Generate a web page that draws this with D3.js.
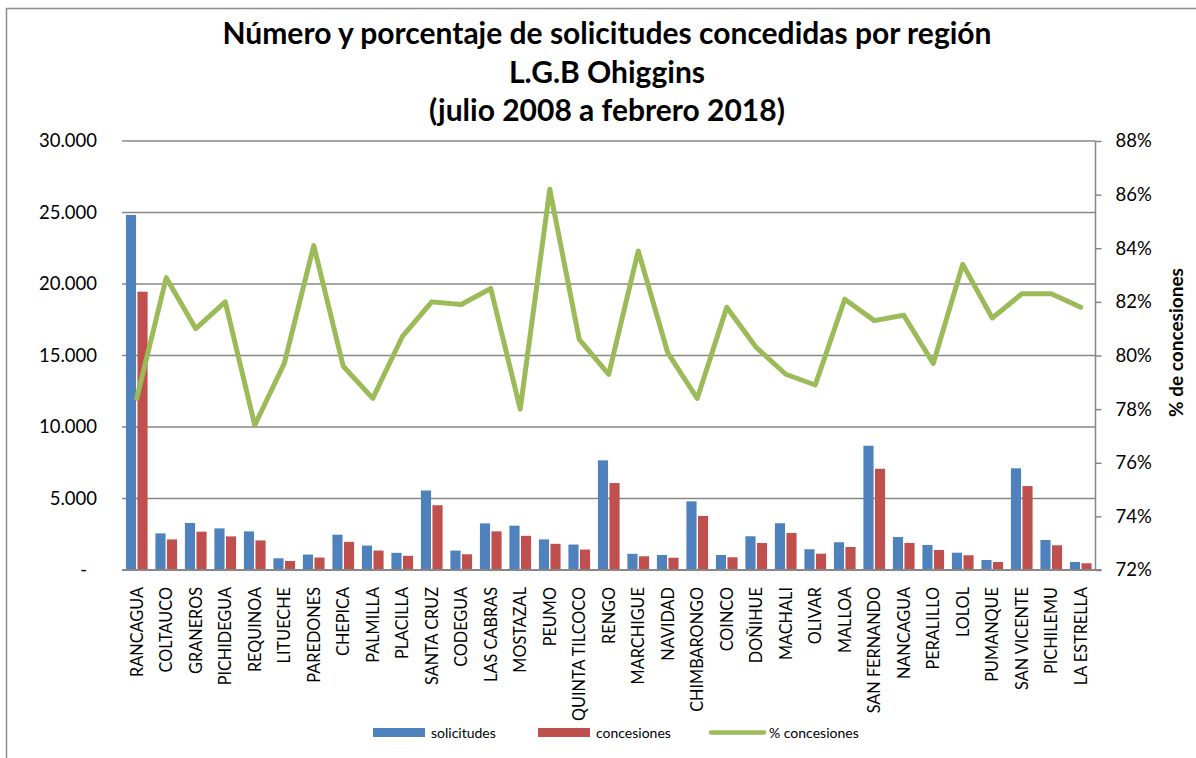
<!DOCTYPE html>
<html>
<head>
<meta charset="utf-8">
<script src="https://cdn.jsdelivr.net/npm/d3@7"></script>
<style>
  body { margin: 0; background: #fff; }
  svg text { font-family: Lato, "Open Sans", sans-serif; fill: #000; }
</style>
</head>
<body>
<svg id="chart" width="1196" height="758"></svg>
<script>
// comunas (eje x)
const categories = ["RANCAGUA", "COLTAUCO", "GRANEROS", "PICHIDEGUA", "REQUINOA", "LITUECHE",
  "PAREDONES", "CHEPICA", "PALMILLA", "PLACILLA", "SANTA CRUZ", "CODEGUA", "LAS CABRAS",
  "MOSTAZAL", "PEUMO", "QUINTA TILCOCO", "RENGO", "MARCHIGUE", "NAVIDAD", "CHIMBARONGO",
  "COINCO", "DOÑIHUE", "MACHALI", "OLIVAR", "MALLOA", "SAN FERNANDO", "NANCAGUA",
  "PERALILLO", "LOLOL", "PUMANQUE", "SAN VICENTE", "PICHILEMU", "LA ESTRELLA"];

// numero de solicitudes
const solicitudes = [24830, 2560, 3290, 2910, 2700, 820, 1080, 2470, 1710, 1200, 5560, 1360, 3260,
  3100, 2140, 1780, 7670, 1130, 1050, 4800, 1050, 2360, 3270, 1450, 1940, 8690, 2310,
  1750, 1210, 700, 7110, 2100, 560];

// numero de concesiones
const concesiones = [19460, 2140, 2680, 2350, 2070, 630, 870, 1970, 1360, 990, 4530, 1100, 2700,
  2390, 1830, 1430, 6080, 960, 860, 3780, 890, 1890, 2590, 1140, 1610, 7080, 1890,
  1400, 1030, 560, 5870, 1730, 470];

// % concesiones (eje derecho)
const pctConcesiones = [78.4, 82.9, 81.0, 82.0, 77.4, 79.7, 84.1, 79.6, 78.4, 80.7, 82.0, 81.9, 82.5,
  78.0, 86.2, 80.6, 79.3, 83.9, 80.1, 78.4, 81.8, 80.3, 79.3, 78.9, 82.1, 81.3, 81.5,
  79.7, 83.4, 81.4, 82.3, 82.3, 81.8];

const leftTicks = [0, 5000, 10000, 15000, 20000, 25000, 30000];
const rightTicks = [72, 74, 76, 78, 80, 82, 84, 86, 88];
const seriesNames = ["solicitudes", "concesiones"];
const colors = { solicitudes: "#4F81BD", concesiones: "#C0504D", pct: "#9BBB59" };

const svg = d3.select("#chart");

// marco del grafico
svg.append("rect")
  .attr("x", 6.5).attr("y", 8.5)
  .attr("width", 1250).attr("height", 800)
  .attr("fill", "none").attr("stroke", "#8c8c8c").attr("stroke-width", 1.5);

// titulo
const titleLines = ["Número y porcentaje de solicitudes concedidas por región",
  "L.G.B Ohiggins", "(julio 2008 a febrero 2018)"];
svg.append("text")
  .attr("x", 607).attr("y", 44)
  .attr("text-anchor", "middle")
  .attr("font-size", "30px").attr("font-weight", "bold")
  .selectAll("tspan").data(titleLines).join("tspan")
  .attr("x", 607).attr("dy", (d, i) => i === 0 ? 0 : 38.5)
  .text(d => d);

const plot = { left: 122, right: 1095.5, top: 141, bottom: 570 };

const x = d3.scaleBand()
  .domain(categories)
  .range([plot.left, plot.right])
  .paddingInner(0.265).paddingOuter(0.1325);

const xs = d3.scaleBand()
  .domain(seriesNames)
  .range([0, x.bandwidth()])
  .paddingInner(0.12);

const y = d3.scaleLinear().domain([0, 30000]).range([plot.bottom, plot.top]);
const y2 = d3.scaleLinear().domain([72, 88]).range([plot.bottom, plot.top]);

// lineas de division
svg.append("g")
  .selectAll("line").data(leftTicks.slice(1)).join("line")
  .attr("x1", plot.left).attr("x2", plot.right)
  .attr("y1", d => y(d)).attr("y2", d => y(d))
  .attr("stroke", "#878787").attr("stroke-width", 1.5);

// eje izquierdo (solo etiquetas)
const fmt = d => d === 0 ? "-" : d3.format(",")(d).replace(/,/g, ".");
const yAxis = svg.append("g")
  .attr("transform", `translate(${plot.left},0)`)
  .call(d3.axisLeft(y).tickValues(leftTicks).tickFormat(fmt).tickSize(0).tickPadding(25));
yAxis.select(".domain").remove();
yAxis.selectAll("text")
  .attr("font-size", "18.5px")
  .attr("font-family", "Lato, sans-serif")
  .attr("fill", "#000")
  .attr("dx", d => d === 0 ? -10 : 0);

// barras
const groups = svg.append("g")
  .selectAll("g").data(categories).join("g")
  .attr("transform", d => `translate(${x(d)},0)`);

groups.selectAll("rect")
  .data((d, i) => seriesNames.map(k => ({ key: k, value: k === "solicitudes" ? solicitudes[i] : concesiones[i] })))
  .join("rect")
  .attr("x", d => xs(d.key))
  .attr("width", xs.bandwidth())
  .attr("y", d => y(d.value))
  .attr("height", d => plot.bottom - y(d.value))
  .attr("fill", d => colors[d.key]);

// eje x
svg.append("line")
  .attr("x1", plot.left).attr("x2", plot.right + 6)
  .attr("y1", plot.bottom).attr("y2", plot.bottom)
  .attr("stroke", "#878787").attr("stroke-width", 2);

svg.append("g")
  .selectAll("text").data(categories).join("text")
  .attr("transform", d => `translate(${x(d) + x.bandwidth() / 2 + 6},${plot.bottom + 17}) rotate(-90)`)
  .attr("text-anchor", "end")
  .attr("font-size", "16.3px")
  .text(d => d);

// eje derecho
const yAxis2 = svg.append("g")
  .attr("transform", `translate(${plot.right},0)`)
  .call(d3.axisRight(y2).tickValues(rightTicks).tickFormat(d => d + "%").tickSize(6).tickPadding(14));
yAxis2.select(".domain").attr("stroke", "#878787").attr("stroke-width", 1.5).attr("d", `M0,${plot.top}V${plot.bottom}`);
yAxis2.selectAll(".tick line").attr("stroke", "#878787").attr("stroke-width", 1.5);
yAxis2.selectAll("text")
  .attr("font-size", "18.5px")
  .attr("font-family", "Lato, sans-serif")
  .attr("fill", "#000");

svg.append("text")
  .attr("transform", `translate(1183,${(plot.top + plot.bottom) / 2 - 13}) rotate(-90)`)
  .attr("text-anchor", "middle")
  .attr("font-size", "19px").attr("font-weight", "bold")
  .text("% de concesiones");

// linea de porcentaje
const line = d3.line()
  .x((d, i) => x(categories[i]) + x.bandwidth() / 2)
  .y(d => y2(d));

svg.append("path")
  .datum(pctConcesiones)
  .attr("d", line)
  .attr("fill", "none")
  .attr("stroke", colors.pct)
  .attr("stroke-width", 5)
  .attr("stroke-linejoin", "round")
  .attr("stroke-linecap", "round");

// leyenda
const legend = svg.append("g").attr("font-size", "14px");
const legendItems = [
  { label: "solicitudes", type: "rect", color: colors.solicitudes, x: 373 },
  { label: "concesiones", type: "rect", color: colors.concesiones, x: 538 },
  { label: "% concesiones", type: "line", color: colors.pct, x: 711 }
];
legendItems.forEach(it => {
  if (it.type === "rect") {
    legend.append("rect").attr("x", it.x).attr("y", 728).attr("width", 52).attr("height", 9).attr("fill", it.color);
  } else {
    legend.append("line").attr("x1", it.x).attr("x2", it.x + 53).attr("y1", 732.5).attr("y2", 732.5)
      .attr("stroke", it.color).attr("stroke-width", 4.5).attr("stroke-linecap", "round");
  }
  legend.append("text").attr("x", it.x + 58).attr("y", 738).text(it.label);
});
</script>
</body>
</html>
